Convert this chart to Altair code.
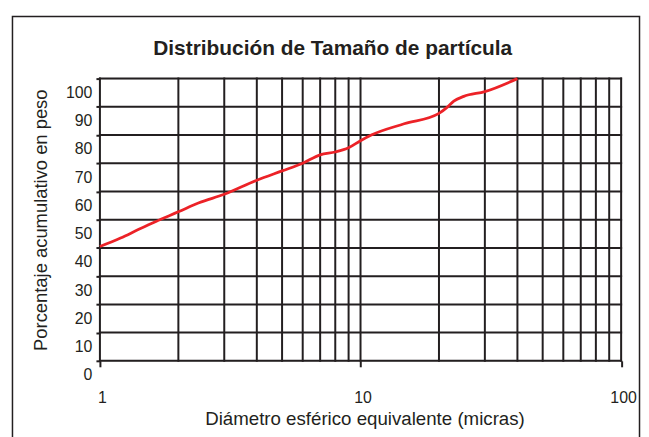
import altair as alt
import pandas as pd

# Curve (diameter in microns, cumulative %)
diam = [1, 1.2, 1.41, 1.64, 2, 2.4, 3, 4, 5, 6, 7, 8, 9, 10, 11, 14.7, 20, 21.6, 22.8, 24.9, 30, 40]
pct = [40.5, 43.5, 46.6, 49.4, 52.8, 56, 59, 64, 67.3, 70, 73, 74, 75.5, 78, 80, 84, 87.7, 90, 92, 93.7, 95.4, 100]

x_grid = [1, 2, 3, 4, 5, 6, 7, 8, 9, 10, 20, 30, 40, 50, 60, 70, 80, 90, 100]
y_grid = [0, 10, 20, 30, 40, 50, 60, 70, 80, 90, 100]
x_labels = [1, 10, 100]

W, H = 524.5, 284
INK = "#231f20"
FONT = "Liberation Sans"

curve = pd.DataFrame({"d": diam, "p": pct})
vgrid = pd.DataFrame({"d": x_grid})
hgrid = pd.DataFrame({"p": y_grid})

xscale = alt.Scale(type="log", domain=[1, 100], nice=False)
yscale = alt.Scale(domain=[0, 100], nice=False, zero=True)

xaxis = alt.Axis(
    values=x_labels, format="~g", grid=False, domain=False,
    tickSize=6, tickWidth=2, tickColor=INK, labelPadding=23, labelOffset=2,
    labelFont=FONT, labelFontSize=16, labelColor=INK, labelFlush=False,
    title="Diámetro esférico equivalente (micras)", titleFont=FONT,
    titleFontSize=18.8, titleFontWeight="normal", titleColor=INK,
    titleBaseline="alphabetic", titleY=64.5, titleX=W / 2 + 4,
)
yaxis = alt.Axis(
    values=y_grid, grid=False, domain=False,
    tickSize=4, tickWidth=2, tickColor=INK, labelPadding=4, labelOffset=14,
    labelFont=FONT, labelFontSize=16, labelColor=INK, labelFlush=False,
    title="Porcentaje acumulativo en peso", titleFont=FONT,
    titleFontSize=18.5, titleFontWeight="normal", titleColor=INK,
    titleAngle=-90, titleBaseline="middle", titleAlign="center",
    titleX=-60, titleY=H / 2,
)

frame = alt.Chart(alt.Data(values=[{}])).mark_rect(
    fill=None, stroke=INK, strokeWidth=1.5
).encode(
    x=alt.value(-88), x2=alt.value(543),
    y=alt.value(-62.4), y2=alt.value(440),
)

vlines = alt.Chart(vgrid).mark_rule(color=INK, strokeWidth=2, strokeCap="square").encode(
    x=alt.X("d:Q", scale=xscale, axis=xaxis)
)
hlines = alt.Chart(hgrid).mark_rule(color=INK, strokeWidth=2, strokeCap="square").encode(
    y=alt.Y("p:Q", scale=yscale, axis=yaxis)
)
line = alt.Chart(curve).mark_line(
    color="#ec2227", strokeWidth=2.8, interpolate="monotone"
).encode(
    x=alt.X("d:Q", scale=xscale, axis=xaxis),
    y=alt.Y("p:Q", scale=yscale, axis=yaxis),
)

chart = alt.layer(frame, vlines, hlines, line).properties(
    width=W, height=H,
    autosize=alt.AutoSizeParams(type="none"),
    padding={"left": 92.5, "top": 69.7, "right": 20, "bottom": 75.3},
    title=alt.TitleParams(
        "Distribución de Tamaño de partícula", font=FONT, fontSize=21,
        fontWeight="bold", color=INK, anchor="middle", frame="group",
        dx=-28, offset=-60.4, baseline="alphabetic",
    ),
).configure_view(stroke=None).configure(background="white")

chart.save("out.html", embed_options={"renderer": "svg", "actions": False})
